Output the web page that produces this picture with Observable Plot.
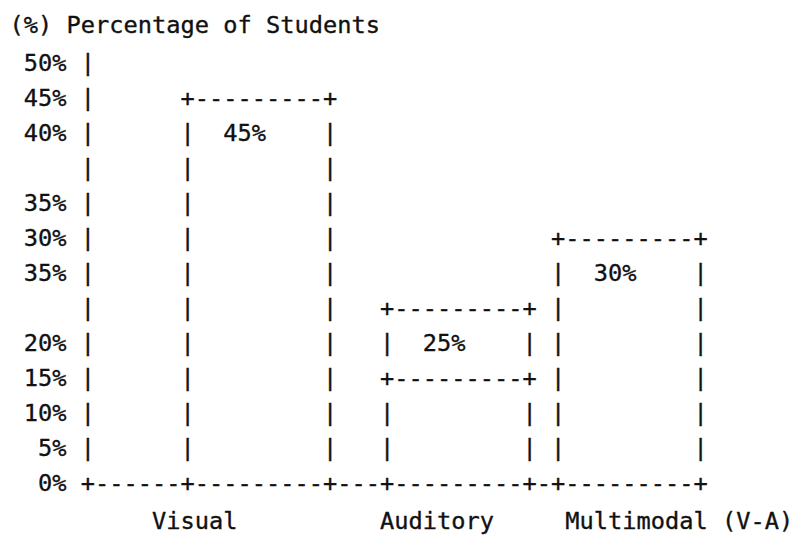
<!DOCTYPE html>
<html><head><meta charset="utf-8">
<script src="https://cdn.jsdelivr.net/npm/d3@7"></script>
<script src="https://cdn.jsdelivr.net/npm/@observablehq/plot@0.6"></script>
<style>body{margin:0;background:#fff}</style>
</head><body><div id="chart"></div>
<script>
// ---- data ----
const yTitle = "(%) Percentage of Students";
const categories = ["Visual", "Auditory", "Multimodal (V-A)"];
const values = [45, 25, 30];
const innerDividers = [null, 15, null];
const yTickLabels = ["50%", "45%", "40%", "", "35%", "30%", "35%", "", "20%", "15%", "10%", "5%", "0%"];
const rowLevels = [50, 45, 40, 37.5, 35, 30, 27.5, 25, 20, 15, 10, 5, 0];

// ---- layout (character grid) ----
const CHAR_W = 14.25;
const NCOLS = 55;
const axisCol = 5;
const barLeftCol = [12, 26, 38];
const barSpan = 10;
const catLabelCol = [10, 26, 39];
const nRows = rowLevels.length + 2;
const baseRow = rowLevels.length;

const grid = Array.from({length: nRows}, () => Array(NCOLS).fill(" "));
const put = (r, c, s) => { for (let i = 0; i < s.length; i++) grid[r][c + i] = s[i]; };
const rowOf = v => 1 + rowLevels.indexOf(v);

put(0, 0, yTitle);
yTickLabels.forEach((t, i) => put(i + 1, 4 - t.length, t));
for (let r = 1; r < baseRow; r++) grid[r][axisCol] = "|";
grid[baseRow][axisCol] = "+";
const lastCol = barLeftCol[barLeftCol.length - 1] + barSpan;
for (let c = axisCol + 1; c <= lastCol; c++) grid[baseRow][c] = "-";
values.forEach((v, i) => {
  const L = barLeftCol[i], R = L + barSpan, top = rowOf(v);
  const hline = r => { grid[r][L] = "+"; grid[r][R] = "+"; for (let c = L + 1; c < R; c++) grid[r][c] = "-"; };
  hline(top);
  for (let r = top + 1; r < baseRow; r++) { grid[r][L] = "|"; grid[r][R] = "|"; }
  if (innerDividers[i] != null) hline(rowOf(innerDividers[i]));
  grid[baseRow][L] = "+"; grid[baseRow][R] = "+";
  put(top + 1, L + 3, `${v}%`);
  put(baseRow + 1, catLabelCol[i], categories[i]);
});
const cells = [];
grid.forEach((row, r) => row.forEach((ch, c) => { if (ch !== " ") cells.push({r, c, ch}); }));

const textOpts = {x: d => d.c + 0.5, y: "r", text: "ch", fontFamily: "DejaVu Sans Mono", fontSize: CHAR_W / 0.602, fill: "#111", stroke: "#111", strokeWidth: 0.35};
const plot = Plot.plot({
  width: 796, height: 536,
  marginLeft: 9, marginRight: 796 - 9 - NCOLS * CHAR_W,
  marginTop: 24, marginBottom: 14,
  x: {domain: [0, NCOLS], axis: null},
  y: {type: "point", domain: d3.range(nRows), padding: 0, axis: null},
  style: {background: "#fff"},
  marks: [
    Plot.text(cells.filter(d => d.r === 0), {...textOpts, dy: -3}),
    Plot.text(cells.filter(d => d.r > 0 && d.r <= baseRow), textOpts),
    Plot.text(cells.filter(d => d.r > baseRow), {...textOpts, dy: 3})
  ]
});
document.getElementById("chart").appendChild(plot);
</script>
</body></html>
